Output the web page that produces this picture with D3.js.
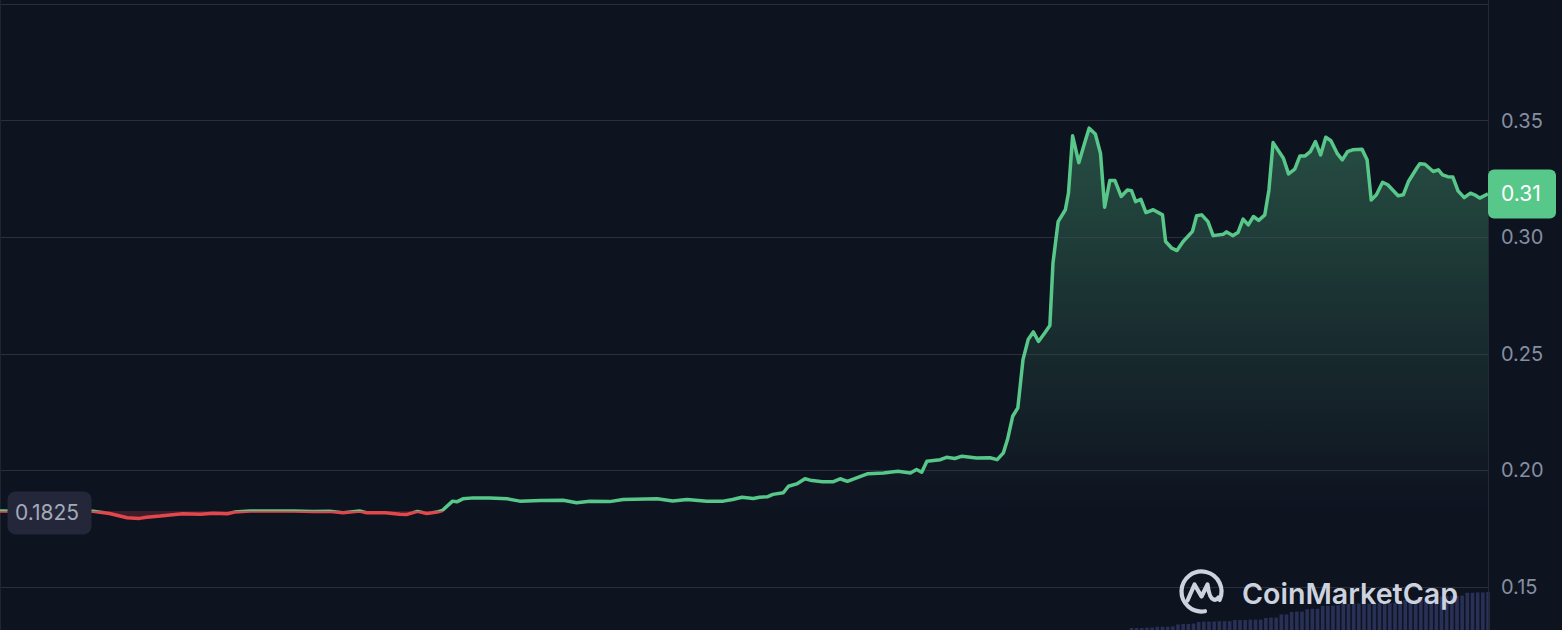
<!DOCTYPE html>
<html>
<head>
<meta charset="utf-8">
<script src="https://cdn.jsdelivr.net/npm/d3@7"></script>
<style>
html, body { margin: 0; padding: 0; background: #0e1320; overflow: hidden; }
svg { display: block; font-family: Inter, "Noto Sans", sans-serif; }
</style>
</head>
<body>
<div id="chart"></div>
<script>
const WIDTH = 1562
const HEIGHT = 630
const PLOT_RIGHT = 1488

const BG = '#0e1320'
const GREEN = '#58c88a'
const RED = '#e2474c'
const GRID = 'rgba(70,75,90,0.5)'
const AXIS_TEXT = '#858ea0'
const LOGO_COLOR = '#cdd2df'
const VOLUME_COLOR = '#283056'

// Opening price of the window (baseline between red and green)
const OPEN_PRICE = 0.1825

// Minutes since the start of the 24h window
const times = [
    0, 44, 90, 106, 116, 123, 135, 142, 155, 167, 177, 194,
    206, 220, 227, 242, 261, 284, 303, 319, 332, 348, 355, 373,
    387, 394, 404, 413, 423, 428,
    438, 442, 448, 458, 474, 491, 503, 523, 545, 558, 571, 590,
    603, 636, 651, 665, 684, 700, 709, 718, 729, 735, 743, 748,
    758, 763, 771, 779, 784, 796, 806, 813, 820, 829, 840, 855,
    869, 881, 887, 892, 897, 910, 916, 924, 931,
    945, 958, 965, 971, 975, 980, 985, 990, 995, 1000, 1005, 1011,
    1016, 1019, 1024, 1031, 1034, 1038, 1044, 1050, 1054, 1060, 1065, 1069,
    1074, 1079, 1085, 1091, 1095, 1099, 1104, 1109, 1116, 1125, 1128, 1134,
    1139, 1145, 1154, 1158, 1163, 1169, 1174, 1184, 1187, 1193, 1198, 1203,
    1208, 1213, 1218, 1224, 1228, 1232, 1242, 1247, 1253, 1258, 1263, 1268,
    1273, 1278, 1283, 1288, 1294, 1299, 1304, 1309, 1318, 1323, 1327, 1332,
    1338, 1343, 1353, 1358, 1363, 1371, 1374, 1379, 1387, 1392, 1396, 1401,
    1406, 1411, 1417, 1423, 1427, 1432, 1440
]

const prices = [
    0.1825, 0.1824, 0.1824, 0.1814, 0.1803, 0.1796, 0.1793, 0.1798, 0.1803, 0.1809, 0.1813, 0.1811,
    0.1815, 0.1813, 0.1820, 0.1825, 0.1825, 0.1825, 0.1823, 0.1824, 0.1817, 0.1825, 0.1817, 0.1817,
    0.1811, 0.1810, 0.1823, 0.1814, 0.1820, 0.1827,
    0.1867, 0.1864, 0.1877, 0.1881, 0.1881, 0.1877, 0.1867, 0.1870, 0.1871, 0.1860, 0.1867, 0.1865,
    0.1874, 0.1877, 0.1868, 0.1874, 0.1867, 0.1867, 0.1874, 0.1884, 0.1878, 0.1884, 0.1886, 0.1896,
    0.1903, 0.1931, 0.1941, 0.1963, 0.1957, 0.1950, 0.1950, 0.1963, 0.1952, 0.1967, 0.1985, 0.1988,
    0.1995, 0.1988, 0.2003, 0.1991, 0.2038, 0.2045, 0.2055, 0.2050, 0.2060,
    0.2052, 0.2053, 0.2045, 0.2074, 0.2131, 0.2231, 0.2267, 0.2474, 0.2560, 0.2593, 0.2552, 0.2588,
    0.2620, 0.2888, 0.3066, 0.3117, 0.3188, 0.3434, 0.3319, 0.3409, 0.3467, 0.3442, 0.3359, 0.3128,
    0.3242, 0.3242, 0.3174, 0.3202, 0.3199, 0.3152, 0.3162, 0.3105, 0.3117, 0.3095, 0.2981, 0.2952,
    0.2942, 0.2981, 0.3024, 0.3091, 0.3095, 0.3066, 0.3006, 0.3012, 0.3022, 0.3006, 0.3019, 0.3077,
    0.3052, 0.3088, 0.3071, 0.3095, 0.3202, 0.3405, 0.3338, 0.3271, 0.3291, 0.3348, 0.3348, 0.3366,
    0.3409, 0.3352, 0.3428, 0.3413, 0.3359, 0.3331, 0.3366, 0.3374, 0.3377, 0.3331, 0.3159, 0.3181,
    0.3235, 0.3224, 0.3177, 0.3181, 0.3238, 0.3295, 0.3314, 0.3312, 0.3281, 0.3288, 0.3267, 0.3259,
    0.3257, 0.3198, 0.3169, 0.3188, 0.3181, 0.3167, 0.3185
]

// Volume bars, one every 5 minutes, starting at VOLUME_START (earlier bars are too small to see)
const VOLUME_START = 1095
const VOLUME_STEP = 5
const volumes = [
    0.5, 0.5, 0.5, 0.6, 0.6, 0.8, 0.8, 0.8, 0.9, 1.4, 1.5, 1.5,
    1.6, 2.0, 2.1, 2.1, 2.1, 2.2, 2.2, 2.2, 2.5, 2.5, 2.5, 2.6,
    2.6, 2.6, 3.0, 3.1, 3.1, 3.9, 3.9, 4.5, 4.6, 4.6, 5.2, 5.3,
    5.3, 6.0, 6.1, 6.1, 6.2, 6.5, 6.5, 6.6, 6.6, 6.6, 6.6, 6.7,
    6.7, 6.7, 6.7, 6.8, 6.8, 7.5, 7.6, 7.6, 7.6, 7.7, 7.7, 7.7,
    8.4, 8.5, 8.5, 8.5, 8.6, 9.3, 9.3, 9.4, 9.4, 9.5
]

const priceTicks = [0.15, 0.20, 0.25, 0.30, 0.35, 0.40]
const tickLabels = ['0.15', '0.20', '0.25', '0.30', '0.35', '']

const data = times.map((t, i) => ({ t, p: prices[i] }))

const svg = d3.select('#chart')
    .append('svg')
    .attr('width', WIDTH)
    .attr('height', HEIGHT)

const x = d3.scaleLinear().domain([0, 1440]).range([0, PLOT_RIGHT])
const y = d3.scaleLinear().domain([0.15, 0.40]).range([586.7, 3.9])
const vol = d3.scaleLinear().domain([0, 10]).range([HEIGHT, HEIGHT - 40])

const baseY = y(OPEN_PRICE)
const maxY = y(d3.max(prices))

svg.append('rect').attr('width', WIDTH).attr('height', HEIGHT).attr('fill', BG)

const defs = svg.append('defs')

const grad = defs.append('linearGradient')
    .attr('id', 'green-fill')
    .attr('gradientUnits', 'userSpaceOnUse')
    .attr('x1', 0).attr('x2', 0)
    .attr('y1', maxY).attr('y2', baseY)
grad.append('stop').attr('offset', 0).attr('stop-color', GREEN).attr('stop-opacity', 0.33)
grad.append('stop').attr('offset', 0.6).attr('stop-color', GREEN).attr('stop-opacity', 0.12)
grad.append('stop').attr('offset', 1).attr('stop-color', GREEN).attr('stop-opacity', 0.0)

defs.append('clipPath').attr('id', 'above')
    .append('rect').attr('x', 0).attr('y', 0).attr('width', PLOT_RIGHT).attr('height', baseY)
defs.append('clipPath').attr('id', 'below')
    .append('rect').attr('x', 0).attr('y', baseY).attr('width', PLOT_RIGHT).attr('height', HEIGHT - baseY)

// Volume bars
svg.append('g')
    .selectAll('rect')
    .data(volumes)
    .enter()
    .append('rect')
    .attr('x', (v, i) => x(VOLUME_START + i * VOLUME_STEP) - 1.8)
    .attr('width', 3.6)
    .attr('y', v => vol(v))
    .attr('height', v => HEIGHT - vol(v))
    .attr('fill', VOLUME_COLOR)

// Area between price and opening price
const area = d3.area()
    .x(d => x(d.t))
    .y0(baseY)
    .y1(d => y(d.p))

svg.append('path')
    .datum(data)
    .attr('d', area)
    .attr('fill', 'url(#green-fill)')
    .attr('clip-path', 'url(#above)')

svg.append('path')
    .datum(data)
    .attr('d', area)
    .attr('fill', RED)
    .attr('fill-opacity', 0.22)
    .attr('clip-path', 'url(#below)')

// Grid lines and frame
svg.append('g')
    .selectAll('line')
    .data(priceTicks)
    .enter()
    .append('line')
    .attr('x1', 0).attr('x2', PLOT_RIGHT)
    .attr('y1', d => Math.round(y(d)) + 0.5)
    .attr('y2', d => Math.round(y(d)) + 0.5)
    .attr('stroke', GRID)

svg.append('line')
    .attr('x1', PLOT_RIGHT + 0.5).attr('x2', PLOT_RIGHT + 0.5)
    .attr('y1', 0).attr('y2', HEIGHT)
    .attr('stroke', '#262a36')

svg.append('line')
    .attr('x1', 0.5).attr('x2', 0.5)
    .attr('y1', 0).attr('y2', HEIGHT)
    .attr('stroke', '#212533')

// Price line, green above the open and red below it
const line = d3.line()
    .x(d => x(d.t))
    .y(d => y(d.p))

svg.append('path')
    .datum(data)
    .attr('d', line)
    .attr('fill', 'none')
    .attr('stroke', GREEN)
    .attr('stroke-width', 3.5)
    .attr('stroke-linejoin', 'round')
    .attr('clip-path', 'url(#above)')

svg.append('path')
    .datum(data)
    .attr('d', line)
    .attr('fill', 'none')
    .attr('stroke', RED)
    .attr('stroke-width', 3.5)
    .attr('stroke-linejoin', 'round')
    .attr('clip-path', 'url(#below)')

// Right axis labels
svg.append('g')
    .selectAll('text')
    .data(priceTicks)
    .enter()
    .append('text')
    .attr('x', 1501)
    .attr('y', d => y(d))
    .attr('dy', '0.36em')
    .attr('fill', AXIS_TEXT)
    .attr('font-size', 20)
    .text((d, i) => tickLabels[i])

// Last price marker
const lastPrice = prices[prices.length - 1]
const lastY = y(lastPrice)
svg.append('rect')
    .attr('x', PLOT_RIGHT)
    .attr('y', lastY - 24.5)
    .attr('width', 68)
    .attr('height', 49)
    .attr('rx', 6)
    .attr('fill', GREEN)
svg.append('text')
    .attr('x', 1501)
    .attr('y', lastY)
    .attr('dy', '0.36em')
    .attr('fill', '#ffffff')
    .attr('font-size', 21)
    .text((Math.floor(lastPrice * 100) / 100).toFixed(2))

// Opening price marker
svg.append('rect')
    .attr('x', 7.5)
    .attr('y', baseY - 19.5)
    .attr('width', 84)
    .attr('height', 43)
    .attr('rx', 8)
    .attr('fill', '#24273a')
svg.append('text')
    .attr('x', 15)
    .attr('y', baseY + 2)
    .attr('dy', '0.36em')
    .attr('fill', '#a3a9b7')
    .attr('font-size', 21)
    .text(OPEN_PRICE.toFixed(4))

// Watermark
const logo = svg.append('g')
    .attr('transform', 'translate(1201.5,591.5)')
    .attr('fill', 'none')
    .attr('stroke', LOGO_COLOR)
    .attr('stroke-width', 4.2)
    .attr('stroke-linecap', 'round')
    .attr('stroke-linejoin', 'round')

const rad = deg => deg * Math.PI / 180
const ring = d3.path()
ring.moveTo(20 * Math.cos(rad(80)), 20 * Math.sin(rad(80)))
ring.arc(0, 0, 20, rad(80), rad(385))
logo.append('path').attr('d', ring.toString())
logo.append('path')
    .attr('d', 'M-14,9 L-7,-7 L0,5 L6,-7 Q8,7 12,8 Q15,9 17,6')

svg.append('text')
    .attr('x', 1242)
    .attr('y', 603.5)
    .attr('fill', LOGO_COLOR)
    .attr('font-size', 29)
    .attr('font-weight', 600)
    .attr('textLength', 216)
    .attr('lengthAdjust', 'spacingAndGlyphs')
    .text('CoinMarketCap')
</script>
</body>
</html>
